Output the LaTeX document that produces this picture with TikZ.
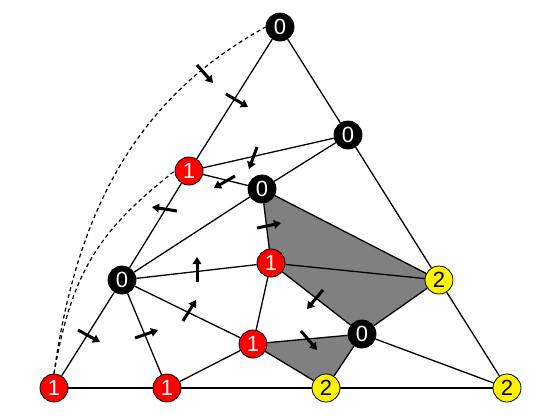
\documentclass[tikz,border=0pt]{standalone}
\usepackage{fontspec}
\setmainfont{Liberation Sans}
\usetikzlibrary{arrows.meta,backgrounds}
\begin{document}
\begin{tikzpicture}[x=1pt,y=-1pt,
  vtx/.style={circle,draw=black,line width=0.8pt,minimum size=28pt,inner sep=0pt,font=\fontsize{22}{22}\selectfont},
  zero/.style={vtx,fill=black,text=white},
  one/.style={vtx,fill=red,text=white},
  two/.style={vtx,fill=yellow,text=black},
  edge/.style={line width=1.3pt},
  shade/.style={fill=black!50},
  flow/.style={line width=3pt,-{Triangle[length=7pt,width=8.5pt]}},
  curve/.style={line width=1.2pt,dash pattern=on 4pt off 3pt}]
\useasboundingbox (0,0) rectangle (554,416);
% vertices
\node[zero] (T)  at (280,27)  {0};
\node[zero] (A)  at (348,135) {0};
\node[one]  (R1) at (189,171) {1};
\node[zero] (B)  at (262,189) {0};
\node[zero] (C)  at (122,280) {0};
\node[one]  (D)  at (271,263) {1};
\node[two]  (Y1) at (439,280) {2};
\node[zero] (E)  at (362,334) {0};
\node[one]  (F)  at (253,344) {1};
\node[one]  (BL) at (54,388)  {1};
\node[one]  (G)  at (167,388) {1};
\node[two]  (Y2) at (326,388) {2};
\node[two]  (BR) at (507,388) {2};
\begin{scope}[on background layer]
  \fill[shade] (B.center) -- (Y1.center) -- (E.center) -- (D.center) -- cycle;
  \fill[shade] (F.center) -- (E.center) -- (Y2.center) -- cycle;
  % outer triangle
  \draw[edge] (T) -- (R1) (R1) -- (C) (C) -- (BL);
  \draw[edge] (T) -- (A) (A) -- (Y1) (Y1) -- (BR);
  \draw[edge] (BL) -- (G) (G) -- (Y2) (Y2) -- (BR);
  % interior
  \draw[edge] (R1) -- (A) (R1) -- (B) (A) -- (B);
  \draw[edge] (B) -- (C) (B) -- (D) (B) -- (Y1);
  \draw[edge] (C) -- (D) (C) -- (F) (C) -- (G);
  \draw[edge] (D) -- (Y1) (D) -- (F) (D) -- (E);
  \draw[edge] (Y1) -- (E);
  \draw[edge] (F) -- (E) (F) -- (G) (F) -- (Y2);
  \draw[edge] (E) -- (Y2) (E) -- (BR);
  % dashed curves
  \draw[curve] (BL.north) .. controls (78,200) and (144,94) .. (T.west);
  \draw[curve] (BL.north) .. controls (72,270) and (100,230) .. (R1.west);
\end{scope}
% flow arrows
\draw[flow] (197,65) -- (213,83);
\draw[flow] (226,94) -- (248,107);
\draw[flow] (257,147) -- (249,169);
\draw[flow] (235,176) -- (214,188);
\draw[flow] (177,211) -- (152,207);
\draw[flow] (257,228) -- (281,223);
\draw[flow] (197,282) -- (197,257);
\draw[flow] (183,321) -- (196,300);
\draw[flow] (135,338) -- (158,330);
\draw[flow] (78,330) -- (100,342);
\draw[flow] (323,290) -- (307,309);
\draw[flow] (301,331) -- (317,350);
\end{tikzpicture}
\end{document}
